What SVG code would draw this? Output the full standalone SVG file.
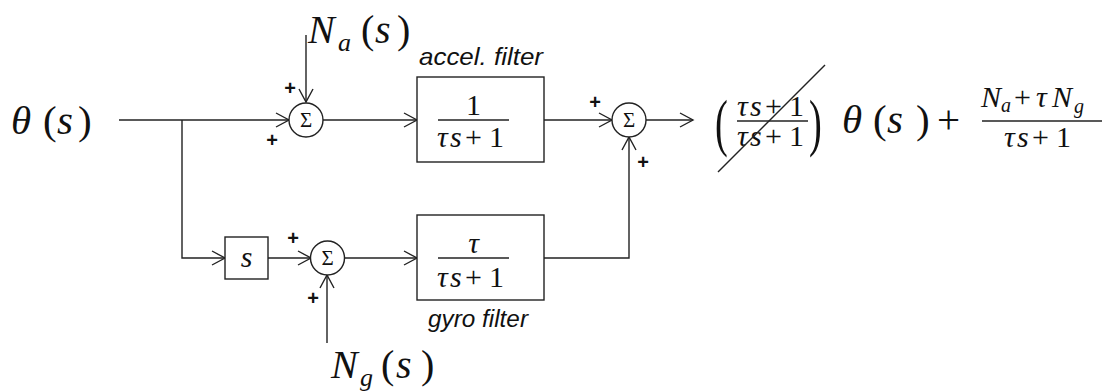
<svg xmlns="http://www.w3.org/2000/svg" width="1109" height="392" viewBox="0 0 1109 392">
<style>
.ln{fill:none;stroke:#222;stroke-width:1.4}
.bx{fill:#fff;stroke:#222;stroke-width:1.4}
.m{font-family:"Liberation Serif","DejaVu Serif",serif;fill:#111}
.i{font-style:italic}
.lbl{font-family:"Liberation Sans",Arial,sans-serif;font-style:italic;font-size:24px;fill:#111}
.pl{font-family:"Liberation Sans",Arial,sans-serif;font-weight:bold;font-size:20px;fill:#111;text-anchor:middle}
.sg{font-family:"Liberation Serif","DejaVu Serif",serif;font-size:21px;fill:#111;text-anchor:middle}
</style>
<defs>
<marker id="ar" markerUnits="userSpaceOnUse" markerWidth="20" markerHeight="20" refX="14" refY="8" orient="auto" viewBox="0 0 20 16">
<path d="M1,1 L14,8 L1,15" fill="none" stroke="#222" stroke-width="1.4"/>
</marker>
</defs>

<g id="connectors">
<path class="ln" d="M119,120 H289" marker-end="url(#ar)"/>
<path class="ln" d="M306,35 V102" marker-end="url(#ar)"/>
<path class="ln" d="M323,120 H417" marker-end="url(#ar)"/>
<path class="ln" d="M544,120 H612" marker-end="url(#ar)"/>
<path class="ln" d="M646,120 H693" marker-end="url(#ar)"/>
<path class="ln" d="M182,120 V258 H225" marker-end="url(#ar)"/>
<path class="ln" d="M268,258 H311" marker-end="url(#ar)"/>
<path class="ln" d="M327,343 V275" marker-end="url(#ar)"/>
<path class="ln" d="M344,258 H417" marker-end="url(#ar)"/>
<path class="ln" d="M544,258 H629 V137" marker-end="url(#ar)"/>
</g>

<g id="input-theta">
<text class="m" font-size="41" y="134"><tspan class="i" x="11">θ</tspan><tspan x="43">(</tspan><tspan class="i" x="57">s</tspan><tspan x="78">)</tspan></text>
</g>

<g id="noise-a">
<text class="m" font-size="40" y="43"><tspan class="i" x="308">N</tspan><tspan class="i" x="338" y="51" font-size="26">a</tspan><tspan x="361" y="43">(</tspan><tspan class="i" x="375">s</tspan><tspan x="397">)</tspan></text>
</g>

<g id="noise-g">
<text class="m" font-size="40" y="378"><tspan class="i" x="331">N</tspan><tspan class="i" x="360" y="386" font-size="26">g</tspan><tspan x="381" y="378">(</tspan><tspan class="i" x="396">s</tspan><tspan x="421">)</tspan></text>
</g>

<g id="sum1">
<circle class="bx" cx="306" cy="120" r="17"/>
<text class="sg" x="306" y="127">Σ</text>
<text class="pl" x="290" y="95">+</text>
<text class="pl" x="272" y="147">+</text>
</g>

<g id="accel-filter">
<rect class="bx" x="417" y="77" width="127" height="85"/>
<text class="lbl" x="419" y="65" textLength="124" lengthAdjust="spacingAndGlyphs">accel. filter</text>
<text class="m" font-size="30" x="473.5" y="115" text-anchor="middle">1</text>
<path class="ln" d="M438,120 H509"/>
<text class="m" font-size="30" y="147"><tspan class="i" x="437">τ</tspan><tspan class="i" x="450">s</tspan><tspan x="465">+</tspan><tspan x="489">1</tspan></text>
</g>

<g id="sum2">
<circle class="bx" cx="629" cy="120" r="17"/>
<text class="sg" x="629" y="127">Σ</text>
<text class="pl" x="595" y="109">+</text>
<text class="pl" x="643" y="169">+</text>
</g>

<g id="s-block">
<rect class="bx" x="225" y="237" width="43" height="42"/>
<text class="m i" font-size="30" x="246.5" y="267" text-anchor="middle">s</text>
</g>

<g id="sum3">
<circle class="bx" cx="327.5" cy="258" r="17"/>
<text class="sg" x="327.5" y="265">Σ</text>
<text class="pl" x="293" y="245">+</text>
<text class="pl" x="313" y="305">+</text>
</g>

<g id="gyro-filter">
<rect class="bx" x="417" y="215" width="127" height="85"/>
<text class="m i" font-size="30" x="473.5" y="253" text-anchor="middle">τ</text>
<path class="ln" d="M438,258 H509"/>
<text class="m" font-size="30" y="287"><tspan class="i" x="437">τ</tspan><tspan class="i" x="450">s</tspan><tspan x="465">+</tspan><tspan x="489">1</tspan></text>
<text class="lbl" x="428" y="327" textLength="100" lengthAdjust="spacingAndGlyphs">gyro filter</text>
</g>

<g id="output">
<text class="m" font-size="64" transform="translate(715,144) scale(0.6,1)" x="0" y="0">(</text>
<text class="m" font-size="64" transform="translate(809,144) scale(0.6,1)" x="0" y="0">)</text>
<text class="m" font-size="30" y="116"><tspan class="i" x="737">τ</tspan><tspan class="i" x="750">s</tspan><tspan x="765">+</tspan><tspan x="789">1</tspan></text>
<path class="ln" d="M737,121 H808"/>
<text class="m" font-size="30" y="146"><tspan class="i" x="737">τ</tspan><tspan class="i" x="750">s</tspan><tspan x="765">+</tspan><tspan x="789">1</tspan></text>
<path class="ln" d="M718,172 L825,65"/>
<text class="m" font-size="41" y="133"><tspan class="i" x="842">θ</tspan><tspan x="873">(</tspan><tspan class="i" x="887">s</tspan><tspan x="916">)</tspan><tspan x="937">+</tspan></text>
<text class="m" font-size="30" y="107"><tspan class="i" x="981">N</tspan><tspan class="i" x="1001" y="112" font-size="20">a</tspan><tspan x="1014" y="107">+</tspan><tspan class="i" x="1036">τ</tspan><tspan class="i" x="1052">N</tspan><tspan class="i" x="1074" y="113" font-size="20">g</tspan></text>
<path class="ln" d="M982,121 H1102"/>
<text class="m" font-size="30" y="147"><tspan class="i" x="1004">τ</tspan><tspan class="i" x="1017">s</tspan><tspan x="1032">+</tspan><tspan x="1056">1</tspan></text>
</g>
</svg>
